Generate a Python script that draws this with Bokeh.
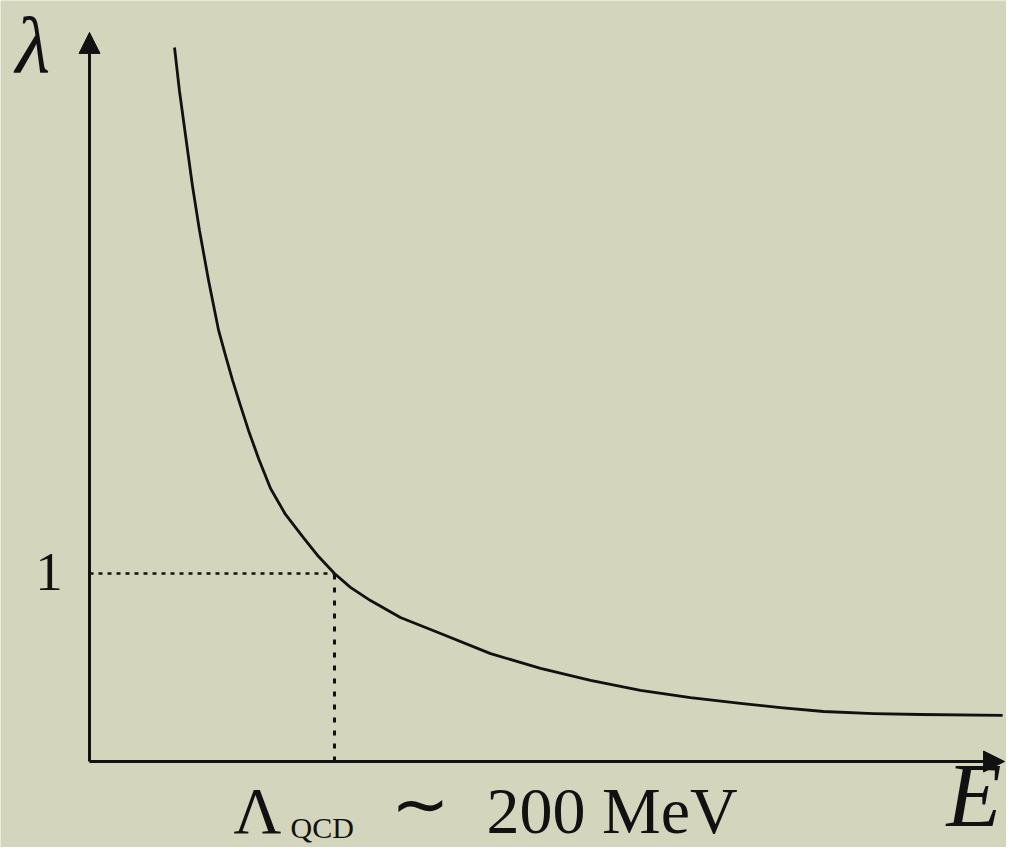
from bokeh.plotting import figure
from bokeh.models import Range1d, Arrow, NormalHead, Label, ColumnDataSource
from bokeh.embed import file_html
from bokeh.resources import INLINE

# Curve: coupling lambda versus energy E (Lambda_QCD at E = 1)
energy = [0.347, 0.367, 0.392, 0.420, 0.449, 0.486, 0.527, 0.555, 0.584, 0.616,
          0.649, 0.690, 0.739, 0.800, 0.873, 0.935, 1.0, 1.065, 1.147, 1.269,
          1.433, 1.637, 1.841, 2.045, 2.249, 2.453, 2.657, 2.820, 2.996, 3.200,
          3.392, 3.727]
coupling = [3.798, 3.569, 3.330, 3.064, 2.824, 2.559, 2.293, 2.160, 2.027, 1.894,
            1.761, 1.612, 1.452, 1.314, 1.191, 1.090, 1.0, 0.926, 0.856, 0.766,
            0.681, 0.574, 0.495, 0.431, 0.378, 0.340, 0.309, 0.287, 0.266, 0.255,
            0.250, 0.245]

lambda_qcd = 1.0
lambda_at_scale = 1.0
x_axis_end = 3.735
y_axis_end = 3.878

BG = "#d4d5bd"
INK = "#111111"

W, H = 1006, 847
p = figure(width=W, height=H, output_backend="svg", toolbar_location=None,
           x_range=Range1d(-89 / 245, (W - 89) / 245),
           y_range=Range1d((761 - H) / 188, 761 / 188),
           min_border=0, min_border_left=0, min_border_right=0,
           min_border_top=0, min_border_bottom=0)
p.axis.visible = False
p.grid.visible = False
p.outline_line_color = None
p.background_fill_color = BG
p.border_fill_color = BG

# axes with arrowheads
p.add_layout(Arrow(end=NormalHead(size=21, fill_color=INK, line_color=INK, line_width=1),
                   x_start=0, y_start=0, x_end=0, y_end=y_axis_end,
                   line_width=3, line_color=INK))
p.add_layout(Arrow(end=NormalHead(size=21, fill_color=INK, line_color=INK, line_width=1),
                   x_start=0, y_start=0, x_end=x_axis_end, y_end=0,
                   line_width=3, line_color=INK))

# dotted guides
p.line([0, lambda_qcd], [lambda_at_scale, lambda_at_scale], line_width=2.5,
       line_color=INK, line_dash="4 5")
p.line([lambda_qcd, lambda_qcd], [0, lambda_at_scale], line_width=3,
       line_color=INK, line_dash="5 8")

src = ColumnDataSource(dict(E=energy, lam=coupling))
p.line("E", "lam", source=src, line_width=2.8, line_color=INK, line_join="round")

SERIF = "Liberation Serif"


def lab(text, x, base_y, size, style="normal", align="left"):
    # base_y: desired baseline, pixels from top of the page
    p.add_layout(Label(x=x, y=H - base_y + 0.37 * size, x_units="screen", y_units="screen",
                       text=text, text_font=SERIF, text_font_size=f"{size}px",
                       text_font_style=style, text_color=INK, text_align=align,
                       text_baseline="alphabetic"))


lab("λ", 15, 74, 80, "italic")
lab("1", 48.5, 592, 55, align="center")
lab("E", 946, 828, 90, "italic")
lab("Λ", 233, 834, 66)
lab("QCD", 290, 838, 30)
lab("∼", 420, 830, 70, align="center")
lab("200 MeV", 486, 834, 66)

open("out.html", "w").write(file_html(p, INLINE))
